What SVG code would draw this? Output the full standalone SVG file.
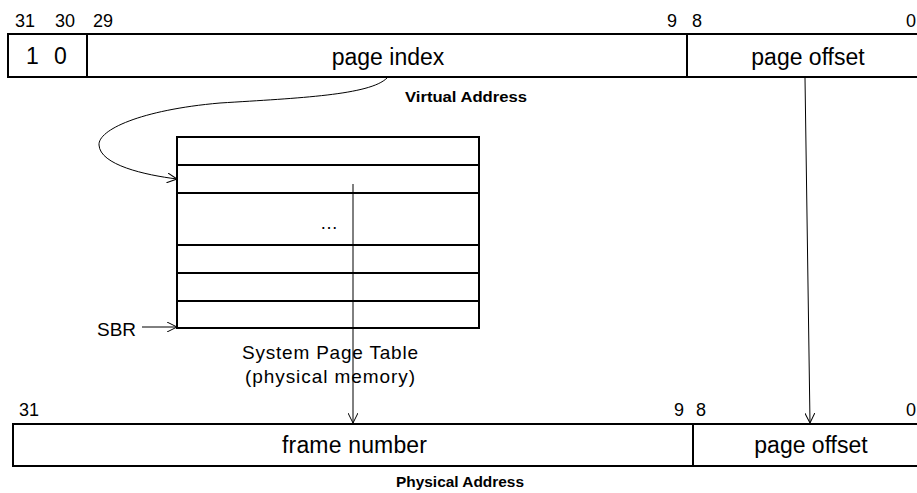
<svg xmlns="http://www.w3.org/2000/svg" width="917" height="493" viewBox="0 0 917 493">
<style>
text{font-family:"Liberation Sans",Arial,sans-serif;fill:#000}
.num{font-size:18px}
.big{font-size:23px}
.mid{font-size:19px}
.cap{font-size:15px;font-weight:bold}
.box{fill:#fff;stroke:#000;stroke-width:2}
.div{stroke:#000;stroke-width:2}
.wire{fill:none;stroke:#000;stroke-width:1}
</style>
<defs>
<marker id="ah" viewBox="0 0 10 10" refX="10" refY="5" markerWidth="10" markerHeight="10" markerUnits="userSpaceOnUse" orient="auto">
<path d="M0,0 L10,5 L0,10" fill="none" stroke="#000" stroke-width="1"/>
</marker>
</defs>
<g id="virtual-address">
<rect class="box" x="8" y="34" width="920" height="43"/>
<line class="div" x1="87" y1="34" x2="87" y2="77"/>
<line class="div" x1="687" y1="34" x2="687" y2="77"/>
<text class="num" x="15" y="27">31</text>
<text class="num" x="55" y="27">30</text>
<text class="num" x="93" y="27">29</text>
<text class="num" x="667" y="27">9</text>
<text class="num" x="692" y="27">8</text>
<text class="num" x="906" y="27">0</text>
<text class="big" x="26" y="64">1</text>
<text class="big" x="54" y="64">0</text>
<text class="big" x="388" y="65" text-anchor="middle">page index</text>
<text class="big" x="808" y="65" text-anchor="middle">page offset</text>
<text class="cap" x="405" y="102" textLength="122" lengthAdjust="spacingAndGlyphs">Virtual Address</text>
</g>
<g id="page-table">
<rect class="box" x="177" y="137" width="302" height="191"/>
<line class="div" x1="177" y1="165" x2="479" y2="165"/>
<line class="div" x1="177" y1="193" x2="479" y2="193"/>
<line class="div" x1="177" y1="245" x2="479" y2="245"/>
<line class="div" x1="177" y1="273" x2="479" y2="273"/>
<line class="div" x1="177" y1="301" x2="479" y2="301"/>
<text class="num" x="329" y="229" text-anchor="middle">…</text>
<text class="mid" x="242" y="359" textLength="176" lengthAdjust="spacing">System Page Table</text>
<text class="mid" x="245" y="383" textLength="170" lengthAdjust="spacing">(physical memory)</text>
</g>
<g id="sbr">
<text class="mid" x="97" y="336">SBR</text>
</g>
<g id="physical-address">
<rect class="box" x="13" y="424" width="920" height="42"/>
<line class="div" x1="693" y1="424" x2="693" y2="466"/>
<text class="num" x="19" y="416">31</text>
<text class="num" x="674" y="416">9</text>
<text class="num" x="696" y="416">8</text>
<text class="num" x="906" y="416">0</text>
<text class="big" x="282" y="453" textLength="145" lengthAdjust="spacing">frame number</text>
<text class="big" x="811" y="453" text-anchor="middle">page offset</text>
<text class="cap" x="396" y="487" textLength="128" lengthAdjust="spacingAndGlyphs">Physical Address</text>
</g>
<g id="connectors">
<path class="wire" d="M387,78 C370,95 300,98 220,103 C140,110 98,130 99,145 C100,165 145,175 177,179" marker-end="url(#ah)"/>
<line class="wire" x1="142" y1="327" x2="177" y2="327" marker-end="url(#ah)"/>
<line class="wire" x1="353" y1="184" x2="353" y2="423" marker-end="url(#ah)"/>
<line class="wire" x1="805" y1="78" x2="810" y2="423" marker-end="url(#ah)"/>
</g>
</svg>
